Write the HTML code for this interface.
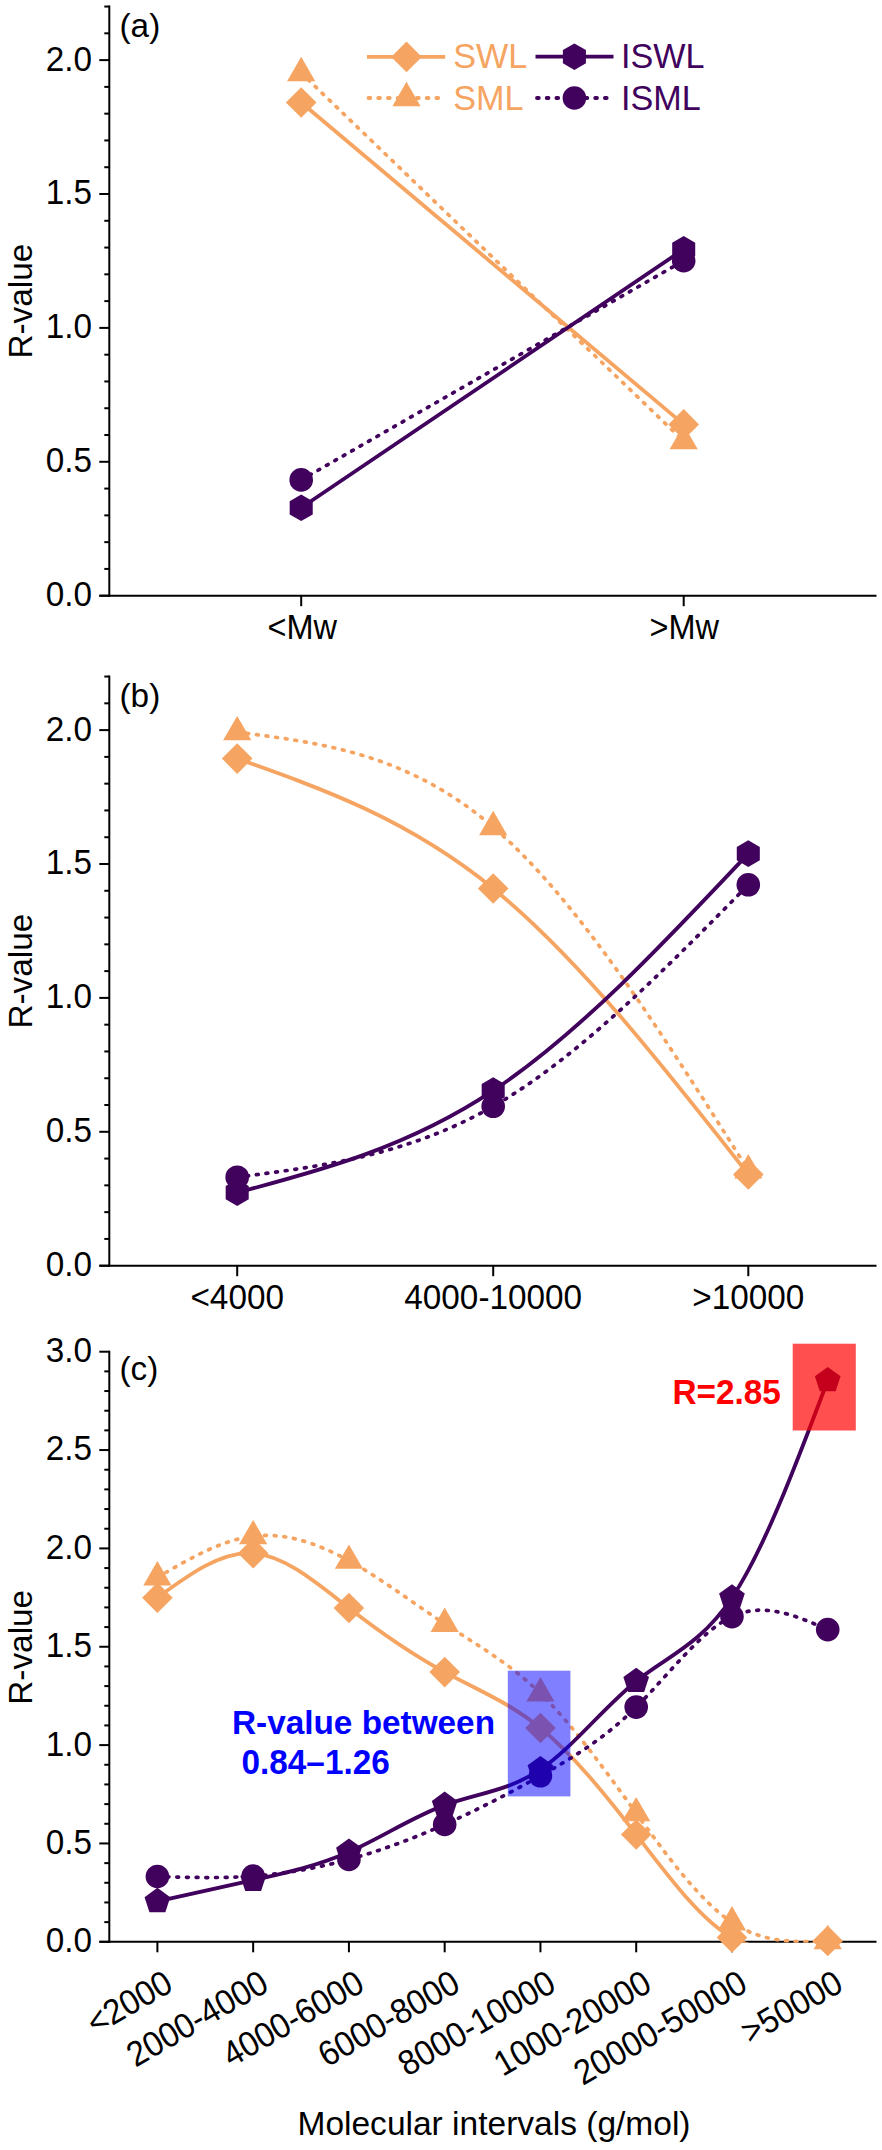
<!DOCTYPE html>
<html><head><meta charset="utf-8"><title>R-value chart</title>
<style>
html,body{margin:0;padding:0;background:#fff;}
body{width:882px;height:2150px;overflow:hidden;}
svg{display:block;}
text{font-family:"Liberation Sans",sans-serif;font-size:33.33px;fill:#000;}
.b{font-weight:bold;}
</style></head><body>
<svg width="882" height="2150" viewBox="0 0 882 2150">
<rect width="882" height="2150" fill="#fff"/>
<defs>
<clipPath id="ca"><rect x="109.3" y="0" width="780" height="595.7"/></clipPath>
<clipPath id="cb"><rect x="109.3" y="650" width="780" height="615.7"/></clipPath>
<clipPath id="cc"><rect x="109.3" y="1330" width="780" height="612.8"/></clipPath>
</defs>
<!-- panel a -->
<line x1="109.3" y1="5.54" x2="109.3" y2="596.70" stroke="#000" stroke-width="2"/>
<line x1="99.3" y1="595.70" x2="109.3" y2="595.70" stroke="#000" stroke-width="2"/>
<text transform="translate(92.00,606.10) scale(1.0,1.055)" text-anchor="end">0.0</text>
<line x1="104.3" y1="568.92" x2="109.3" y2="568.92" stroke="#000" stroke-width="2"/>
<line x1="104.3" y1="542.14" x2="109.3" y2="542.14" stroke="#000" stroke-width="2"/>
<line x1="104.3" y1="515.36" x2="109.3" y2="515.36" stroke="#000" stroke-width="2"/>
<line x1="104.3" y1="488.58" x2="109.3" y2="488.58" stroke="#000" stroke-width="2"/>
<line x1="99.3" y1="461.80" x2="109.3" y2="461.80" stroke="#000" stroke-width="2"/>
<text transform="translate(92.00,472.20) scale(1.0,1.055)" text-anchor="end">0.5</text>
<line x1="104.3" y1="435.02" x2="109.3" y2="435.02" stroke="#000" stroke-width="2"/>
<line x1="104.3" y1="408.24" x2="109.3" y2="408.24" stroke="#000" stroke-width="2"/>
<line x1="104.3" y1="381.46" x2="109.3" y2="381.46" stroke="#000" stroke-width="2"/>
<line x1="104.3" y1="354.68" x2="109.3" y2="354.68" stroke="#000" stroke-width="2"/>
<line x1="99.3" y1="327.90" x2="109.3" y2="327.90" stroke="#000" stroke-width="2"/>
<text transform="translate(92.00,338.30) scale(1.0,1.055)" text-anchor="end">1.0</text>
<line x1="104.3" y1="301.12" x2="109.3" y2="301.12" stroke="#000" stroke-width="2"/>
<line x1="104.3" y1="274.34" x2="109.3" y2="274.34" stroke="#000" stroke-width="2"/>
<line x1="104.3" y1="247.56" x2="109.3" y2="247.56" stroke="#000" stroke-width="2"/>
<line x1="104.3" y1="220.78" x2="109.3" y2="220.78" stroke="#000" stroke-width="2"/>
<line x1="99.3" y1="194.00" x2="109.3" y2="194.00" stroke="#000" stroke-width="2"/>
<text transform="translate(92.00,204.40) scale(1.0,1.055)" text-anchor="end">1.5</text>
<line x1="104.3" y1="167.22" x2="109.3" y2="167.22" stroke="#000" stroke-width="2"/>
<line x1="104.3" y1="140.44" x2="109.3" y2="140.44" stroke="#000" stroke-width="2"/>
<line x1="104.3" y1="113.66" x2="109.3" y2="113.66" stroke="#000" stroke-width="2"/>
<line x1="104.3" y1="86.88" x2="109.3" y2="86.88" stroke="#000" stroke-width="2"/>
<line x1="99.3" y1="60.10" x2="109.3" y2="60.10" stroke="#000" stroke-width="2"/>
<text transform="translate(92.00,70.50) scale(1.0,1.055)" text-anchor="end">2.0</text>
<line x1="104.3" y1="33.32" x2="109.3" y2="33.32" stroke="#000" stroke-width="2"/>
<line x1="104.3" y1="6.54" x2="109.3" y2="6.54" stroke="#000" stroke-width="2"/>
<line x1="99.3" y1="595.70" x2="876.5" y2="595.70" stroke="#000" stroke-width="2"/>
<line x1="301.20" y1="595.70" x2="301.20" y2="606.20" stroke="#000" stroke-width="2"/>
<line x1="683.70" y1="595.70" x2="683.70" y2="606.20" stroke="#000" stroke-width="2"/>
<path d="M301.20,102.50L683.70,424.40" fill="none" stroke="#F6A461" stroke-width="3.8"  clip-path="url(#ca)"/>
<polygon points="301.20,87.20 316.50,102.50 301.20,117.80 285.90,102.50" fill="#F6A461"/>
<polygon points="683.70,409.10 699.00,424.40 683.70,439.70 668.40,424.40" fill="#F6A461"/>
<path d="M301.20,73.00L683.70,441.20" fill="none" stroke="#F6A461" stroke-width="3.7" stroke-dasharray="1.8 7.9" stroke-linecap="round" clip-path="url(#ca)"/>
<polygon points="301.20,56.70 315.30,81.15 287.10,81.15" fill="#F6A461"/>
<polygon points="683.70,424.90 697.80,449.35 669.60,449.35" fill="#F6A461"/>
<path d="M301.20,507.80L683.70,249.30" fill="none" stroke="#40025C" stroke-width="3.8"  clip-path="url(#ca)"/>
<polygon points="301.20,494.50 312.72,501.15 312.72,514.45 301.20,521.10 289.68,514.45 289.68,501.15" fill="#40025C"/>
<polygon points="683.70,236.00 695.22,242.65 695.22,255.95 683.70,262.60 672.18,255.95 672.18,242.65" fill="#40025C"/>
<path d="M301.20,479.90L683.70,260.70" fill="none" stroke="#40025C" stroke-width="3.7" stroke-dasharray="1.8 7.9" stroke-linecap="round" clip-path="url(#ca)"/>
<circle cx="301.20" cy="479.90" r="11.8" fill="#40025C"/>
<circle cx="683.70" cy="260.70" r="11.8" fill="#40025C"/>
<text transform="translate(119.50,37.30) scale(1.0,1.0)">(a)</text>
<text transform="translate(302.20,639.30) scale(0.975,1.055)" text-anchor="middle">&lt;Mw</text>
<text transform="translate(684.30,639.30) scale(0.975,1.055)" text-anchor="middle">&gt;Mw</text>
<text transform="translate(32.40,301.20) rotate(-90) scale(1.0,1.0)" text-anchor="middle">R-value</text>
<line x1="367" y1="56.9" x2="445.2" y2="56.9" stroke="#F6A461" stroke-width="3.8"/>
<polygon points="406.50,41.60 421.80,56.90 406.50,72.20 391.20,56.90" fill="#F6A461"/>
<line x1="368.5" y1="98" x2="441" y2="98" stroke="#F6A461" stroke-width="3.8" stroke-dasharray="1.8 7.9" stroke-linecap="round"/>
<polygon points="406.50,81.70 420.60,106.15 392.40,106.15" fill="#F6A461"/>
<text transform="translate(453.2,67.7) scale(1.025,1.06)" style="fill:#F6A461">SWL</text>
<text transform="translate(453.2,109.6) scale(1.025,1.06)" style="fill:#F6A461">SML</text>
<line x1="535.5" y1="56.7" x2="613.5" y2="56.7" stroke="#40025C" stroke-width="3.8"/>
<polygon points="574.40,43.40 585.92,50.05 585.92,63.35 574.40,70.00 562.88,63.35 562.88,50.05" fill="#40025C"/>
<line x1="537" y1="98" x2="609" y2="98" stroke="#40025C" stroke-width="3.8" stroke-dasharray="1.8 7.9" stroke-linecap="round"/>
<circle cx="574.40" cy="98.00" r="11.8" fill="#40025C"/>
<text transform="translate(621,67.7) scale(1.025,1.06)" style="fill:#40025C">ISWL</text>
<text transform="translate(621,109.6) scale(1.025,1.06)" style="fill:#40025C">ISML</text>
<!-- panel b -->
<line x1="109.3" y1="675.54" x2="109.3" y2="1266.70" stroke="#000" stroke-width="2"/>
<line x1="99.3" y1="1265.70" x2="109.3" y2="1265.70" stroke="#000" stroke-width="2"/>
<text transform="translate(92.00,1276.10) scale(1.0,1.055)" text-anchor="end">0.0</text>
<line x1="104.3" y1="1238.92" x2="109.3" y2="1238.92" stroke="#000" stroke-width="2"/>
<line x1="104.3" y1="1212.14" x2="109.3" y2="1212.14" stroke="#000" stroke-width="2"/>
<line x1="104.3" y1="1185.36" x2="109.3" y2="1185.36" stroke="#000" stroke-width="2"/>
<line x1="104.3" y1="1158.58" x2="109.3" y2="1158.58" stroke="#000" stroke-width="2"/>
<line x1="99.3" y1="1131.80" x2="109.3" y2="1131.80" stroke="#000" stroke-width="2"/>
<text transform="translate(92.00,1142.20) scale(1.0,1.055)" text-anchor="end">0.5</text>
<line x1="104.3" y1="1105.02" x2="109.3" y2="1105.02" stroke="#000" stroke-width="2"/>
<line x1="104.3" y1="1078.24" x2="109.3" y2="1078.24" stroke="#000" stroke-width="2"/>
<line x1="104.3" y1="1051.46" x2="109.3" y2="1051.46" stroke="#000" stroke-width="2"/>
<line x1="104.3" y1="1024.68" x2="109.3" y2="1024.68" stroke="#000" stroke-width="2"/>
<line x1="99.3" y1="997.90" x2="109.3" y2="997.90" stroke="#000" stroke-width="2"/>
<text transform="translate(92.00,1008.30) scale(1.0,1.055)" text-anchor="end">1.0</text>
<line x1="104.3" y1="971.12" x2="109.3" y2="971.12" stroke="#000" stroke-width="2"/>
<line x1="104.3" y1="944.34" x2="109.3" y2="944.34" stroke="#000" stroke-width="2"/>
<line x1="104.3" y1="917.56" x2="109.3" y2="917.56" stroke="#000" stroke-width="2"/>
<line x1="104.3" y1="890.78" x2="109.3" y2="890.78" stroke="#000" stroke-width="2"/>
<line x1="99.3" y1="864.00" x2="109.3" y2="864.00" stroke="#000" stroke-width="2"/>
<text transform="translate(92.00,874.40) scale(1.0,1.055)" text-anchor="end">1.5</text>
<line x1="104.3" y1="837.22" x2="109.3" y2="837.22" stroke="#000" stroke-width="2"/>
<line x1="104.3" y1="810.44" x2="109.3" y2="810.44" stroke="#000" stroke-width="2"/>
<line x1="104.3" y1="783.66" x2="109.3" y2="783.66" stroke="#000" stroke-width="2"/>
<line x1="104.3" y1="756.88" x2="109.3" y2="756.88" stroke="#000" stroke-width="2"/>
<line x1="99.3" y1="730.10" x2="109.3" y2="730.10" stroke="#000" stroke-width="2"/>
<text transform="translate(92.00,740.50) scale(1.0,1.055)" text-anchor="end">2.0</text>
<line x1="104.3" y1="703.32" x2="109.3" y2="703.32" stroke="#000" stroke-width="2"/>
<line x1="104.3" y1="676.54" x2="109.3" y2="676.54" stroke="#000" stroke-width="2"/>
<line x1="99.3" y1="1265.70" x2="876.5" y2="1265.70" stroke="#000" stroke-width="2"/>
<line x1="237.20" y1="1265.70" x2="237.20" y2="1276.20" stroke="#000" stroke-width="2"/>
<line x1="493.20" y1="1265.70" x2="493.20" y2="1276.20" stroke="#000" stroke-width="2"/>
<line x1="748.30" y1="1265.70" x2="748.30" y2="1276.20" stroke="#000" stroke-width="2"/>
<path d="M237.20,758.60C322.53,788.79 407.87,818.99 493.20,888.50C578.23,957.77 663.27,1066.08 748.30,1174.40" fill="none" stroke="#F6A461" stroke-width="3.8"  clip-path="url(#cb)"/>
<polygon points="237.20,743.30 252.50,758.60 237.20,773.90 221.90,758.60" fill="#F6A461"/>
<polygon points="493.20,873.20 508.50,888.50 493.20,903.80 477.90,888.50" fill="#F6A461"/>
<polygon points="748.30,1159.10 763.60,1174.40 748.30,1189.70 733.00,1174.40" fill="#F6A461"/>
<path d="M237.20,732.20C322.53,743.00 407.87,753.81 493.20,827.10C578.23,900.13 663.27,1035.22 748.30,1170.30" fill="none" stroke="#F6A461" stroke-width="3.7" stroke-dasharray="1.8 7.9" stroke-linecap="round" clip-path="url(#cb)"/>
<polygon points="237.20,715.90 251.30,740.35 223.10,740.35" fill="#F6A461"/>
<polygon points="493.20,810.80 507.30,835.25 479.10,835.25" fill="#F6A461"/>
<polygon points="748.30,1154.00 762.40,1178.45 734.20,1178.45" fill="#F6A461"/>
<path d="M237.20,1192.60C322.53,1169.94 407.87,1147.28 493.20,1090.60C578.23,1034.12 663.27,943.86 748.30,853.60" fill="none" stroke="#40025C" stroke-width="3.8"  clip-path="url(#cb)"/>
<polygon points="237.20,1179.30 248.72,1185.95 248.72,1199.25 237.20,1205.90 225.68,1199.25 225.68,1185.95" fill="#40025C"/>
<polygon points="493.20,1077.30 504.72,1083.95 504.72,1097.25 493.20,1103.90 481.68,1097.25 481.68,1083.95" fill="#40025C"/>
<polygon points="748.30,840.30 759.82,846.95 759.82,860.25 748.30,866.90 736.78,860.25 736.78,846.95" fill="#40025C"/>
<path d="M237.20,1177.20C322.53,1166.20 407.87,1155.21 493.20,1106.30C578.23,1057.56 663.27,971.18 748.30,884.80" fill="none" stroke="#40025C" stroke-width="3.7" stroke-dasharray="1.8 7.9" stroke-linecap="round" clip-path="url(#cb)"/>
<circle cx="237.20" cy="1177.20" r="11.8" fill="#40025C"/>
<circle cx="493.20" cy="1106.30" r="11.8" fill="#40025C"/>
<circle cx="748.30" cy="884.80" r="11.8" fill="#40025C"/>
<text transform="translate(119.50,707.00) scale(1.0,1.0)">(b)</text>
<text transform="translate(237.20,1309.30) scale(1.0,1.055)" text-anchor="middle">&lt;4000</text>
<text transform="translate(493.20,1309.30) scale(1.0,1.055)" text-anchor="middle">4000-10000</text>
<text transform="translate(748.30,1309.30) scale(1.0,1.055)" text-anchor="middle">&gt;10000</text>
<text transform="translate(32.40,971.20) rotate(-90) scale(1.0,1.0)" text-anchor="middle">R-value</text>
<!-- panel c -->
<line x1="109.3" y1="1350.70" x2="109.3" y2="1942.80" stroke="#000" stroke-width="2"/>
<line x1="99.3" y1="1941.80" x2="109.3" y2="1941.80" stroke="#000" stroke-width="2"/>
<text transform="translate(92.00,1952.20) scale(1.0,1.055)" text-anchor="end">0.0</text>
<line x1="104.3" y1="1922.13" x2="109.3" y2="1922.13" stroke="#000" stroke-width="2"/>
<line x1="104.3" y1="1902.46" x2="109.3" y2="1902.46" stroke="#000" stroke-width="2"/>
<line x1="104.3" y1="1882.79" x2="109.3" y2="1882.79" stroke="#000" stroke-width="2"/>
<line x1="104.3" y1="1863.12" x2="109.3" y2="1863.12" stroke="#000" stroke-width="2"/>
<line x1="99.3" y1="1843.45" x2="109.3" y2="1843.45" stroke="#000" stroke-width="2"/>
<text transform="translate(92.00,1853.85) scale(1.0,1.055)" text-anchor="end">0.5</text>
<line x1="104.3" y1="1823.78" x2="109.3" y2="1823.78" stroke="#000" stroke-width="2"/>
<line x1="104.3" y1="1804.11" x2="109.3" y2="1804.11" stroke="#000" stroke-width="2"/>
<line x1="104.3" y1="1784.44" x2="109.3" y2="1784.44" stroke="#000" stroke-width="2"/>
<line x1="104.3" y1="1764.77" x2="109.3" y2="1764.77" stroke="#000" stroke-width="2"/>
<line x1="99.3" y1="1745.10" x2="109.3" y2="1745.10" stroke="#000" stroke-width="2"/>
<text transform="translate(92.00,1755.50) scale(1.0,1.055)" text-anchor="end">1.0</text>
<line x1="104.3" y1="1725.43" x2="109.3" y2="1725.43" stroke="#000" stroke-width="2"/>
<line x1="104.3" y1="1705.76" x2="109.3" y2="1705.76" stroke="#000" stroke-width="2"/>
<line x1="104.3" y1="1686.09" x2="109.3" y2="1686.09" stroke="#000" stroke-width="2"/>
<line x1="104.3" y1="1666.42" x2="109.3" y2="1666.42" stroke="#000" stroke-width="2"/>
<line x1="99.3" y1="1646.75" x2="109.3" y2="1646.75" stroke="#000" stroke-width="2"/>
<text transform="translate(92.00,1657.15) scale(1.0,1.055)" text-anchor="end">1.5</text>
<line x1="104.3" y1="1627.08" x2="109.3" y2="1627.08" stroke="#000" stroke-width="2"/>
<line x1="104.3" y1="1607.41" x2="109.3" y2="1607.41" stroke="#000" stroke-width="2"/>
<line x1="104.3" y1="1587.74" x2="109.3" y2="1587.74" stroke="#000" stroke-width="2"/>
<line x1="104.3" y1="1568.07" x2="109.3" y2="1568.07" stroke="#000" stroke-width="2"/>
<line x1="99.3" y1="1548.40" x2="109.3" y2="1548.40" stroke="#000" stroke-width="2"/>
<text transform="translate(92.00,1558.80) scale(1.0,1.055)" text-anchor="end">2.0</text>
<line x1="104.3" y1="1528.73" x2="109.3" y2="1528.73" stroke="#000" stroke-width="2"/>
<line x1="104.3" y1="1509.06" x2="109.3" y2="1509.06" stroke="#000" stroke-width="2"/>
<line x1="104.3" y1="1489.39" x2="109.3" y2="1489.39" stroke="#000" stroke-width="2"/>
<line x1="104.3" y1="1469.72" x2="109.3" y2="1469.72" stroke="#000" stroke-width="2"/>
<line x1="99.3" y1="1450.05" x2="109.3" y2="1450.05" stroke="#000" stroke-width="2"/>
<text transform="translate(92.00,1460.45) scale(1.0,1.055)" text-anchor="end">2.5</text>
<line x1="104.3" y1="1430.38" x2="109.3" y2="1430.38" stroke="#000" stroke-width="2"/>
<line x1="104.3" y1="1410.71" x2="109.3" y2="1410.71" stroke="#000" stroke-width="2"/>
<line x1="104.3" y1="1391.04" x2="109.3" y2="1391.04" stroke="#000" stroke-width="2"/>
<line x1="104.3" y1="1371.37" x2="109.3" y2="1371.37" stroke="#000" stroke-width="2"/>
<line x1="99.3" y1="1351.70" x2="109.3" y2="1351.70" stroke="#000" stroke-width="2"/>
<text transform="translate(92.00,1362.10) scale(1.0,1.055)" text-anchor="end">3.0</text>
<line x1="99.3" y1="1941.80" x2="876.5" y2="1941.80" stroke="#000" stroke-width="2"/>
<line x1="157.40" y1="1941.80" x2="157.40" y2="1952.30" stroke="#000" stroke-width="2"/>
<line x1="253.16" y1="1941.80" x2="253.16" y2="1952.30" stroke="#000" stroke-width="2"/>
<line x1="348.92" y1="1941.80" x2="348.92" y2="1952.30" stroke="#000" stroke-width="2"/>
<line x1="444.68" y1="1941.80" x2="444.68" y2="1952.30" stroke="#000" stroke-width="2"/>
<line x1="540.44" y1="1941.80" x2="540.44" y2="1952.30" stroke="#000" stroke-width="2"/>
<line x1="636.20" y1="1941.80" x2="636.20" y2="1952.30" stroke="#000" stroke-width="2"/>
<line x1="731.96" y1="1941.80" x2="731.96" y2="1952.30" stroke="#000" stroke-width="2"/>
<line x1="827.72" y1="1941.80" x2="827.72" y2="1952.30" stroke="#000" stroke-width="2"/>
<path d="M157.40,1597.70C189.32,1574.40 221.24,1551.11 253.16,1553.30C285.08,1555.49 317.00,1583.18 348.92,1608.00C380.84,1632.82 412.76,1654.79 444.68,1672.10C476.60,1689.41 508.52,1702.07 540.44,1728.00C572.36,1753.93 604.28,1793.14 636.20,1834.50C668.12,1875.86 700.04,1919.39 731.96,1937.50C763.88,1955.61 795.80,1948.31 827.72,1941.00" fill="none" stroke="#F6A461" stroke-width="3.8"  clip-path="url(#cc)"/>
<polygon points="157.40,1582.40 172.70,1597.70 157.40,1613.00 142.10,1597.70" fill="#F6A461"/>
<polygon points="253.16,1538.00 268.46,1553.30 253.16,1568.60 237.86,1553.30" fill="#F6A461"/>
<polygon points="348.92,1592.70 364.22,1608.00 348.92,1623.30 333.62,1608.00" fill="#F6A461"/>
<polygon points="444.68,1656.80 459.98,1672.10 444.68,1687.40 429.38,1672.10" fill="#F6A461"/>
<polygon points="540.44,1712.70 555.74,1728.00 540.44,1743.30 525.14,1728.00" fill="#F6A461"/>
<polygon points="636.20,1819.20 651.50,1834.50 636.20,1849.80 620.90,1834.50" fill="#F6A461"/>
<polygon points="731.96,1922.20 747.26,1937.50 731.96,1952.80 716.66,1937.50" fill="#F6A461"/>
<polygon points="827.72,1925.70 843.02,1941.00 827.72,1956.30 812.42,1941.00" fill="#F6A461"/>
<path d="M157.40,1577.40C189.32,1558.76 221.24,1540.12 253.16,1536.20C285.08,1532.28 317.00,1543.07 348.92,1560.70C380.84,1578.33 412.76,1602.80 444.68,1623.80C476.60,1644.80 508.52,1662.34 540.44,1693.40C572.36,1724.46 604.28,1769.05 636.20,1813.20C668.12,1857.35 700.04,1901.07 731.96,1922.30C763.88,1943.53 795.80,1942.26 827.72,1941.00" fill="none" stroke="#F6A461" stroke-width="3.7" stroke-dasharray="1.8 7.9" stroke-linecap="round" clip-path="url(#cc)"/>
<polygon points="157.40,1561.10 171.50,1585.55 143.30,1585.55" fill="#F6A461"/>
<polygon points="253.16,1519.90 267.26,1544.35 239.06,1544.35" fill="#F6A461"/>
<polygon points="348.92,1544.40 363.02,1568.85 334.82,1568.85" fill="#F6A461"/>
<polygon points="444.68,1607.50 458.78,1631.95 430.58,1631.95" fill="#F6A461"/>
<polygon points="540.44,1677.10 554.54,1701.55 526.34,1701.55" fill="#F6A461"/>
<polygon points="636.20,1796.90 650.30,1821.35 622.10,1821.35" fill="#F6A461"/>
<polygon points="731.96,1906.00 746.06,1930.45 717.86,1930.45" fill="#F6A461"/>
<polygon points="827.72,1924.70 841.82,1949.15 813.62,1949.15" fill="#F6A461"/>
<path d="M157.40,1901.30C189.32,1894.22 221.24,1887.14 253.16,1880.10C285.08,1873.06 317.00,1866.07 348.92,1852.00C380.84,1837.93 412.76,1816.80 444.68,1805.10C476.60,1793.40 508.52,1791.14 540.44,1769.50C572.36,1747.86 604.28,1706.85 636.20,1681.20C668.12,1655.55 700.04,1645.27 731.96,1597.70C763.88,1550.13 795.80,1465.26 827.72,1380.40" fill="none" stroke="#40025C" stroke-width="3.8"  clip-path="url(#cc)"/>
<polygon points="157.40,1887.80 170.24,1897.13 165.34,1912.22 149.46,1912.22 144.56,1897.13" fill="#40025C"/>
<polygon points="253.16,1866.60 266.00,1875.93 261.10,1891.02 245.22,1891.02 240.32,1875.93" fill="#40025C"/>
<polygon points="348.92,1838.50 361.76,1847.83 356.86,1862.92 340.98,1862.92 336.08,1847.83" fill="#40025C"/>
<polygon points="444.68,1791.60 457.52,1800.93 452.62,1816.02 436.74,1816.02 431.84,1800.93" fill="#40025C"/>
<polygon points="540.44,1756.00 553.28,1765.33 548.38,1780.42 532.50,1780.42 527.60,1765.33" fill="#40025C"/>
<polygon points="636.20,1667.70 649.04,1677.03 644.14,1692.12 628.26,1692.12 623.36,1677.03" fill="#40025C"/>
<polygon points="731.96,1584.20 744.80,1593.53 739.90,1608.62 724.02,1608.62 719.12,1593.53" fill="#40025C"/>
<polygon points="827.72,1366.90 840.56,1376.23 835.66,1391.32 819.78,1391.32 814.88,1376.23" fill="#40025C"/>
<path d="M157.40,1876.50C189.32,1877.46 221.24,1878.43 253.16,1876.10C285.08,1873.77 317.00,1868.16 348.92,1859.40C380.84,1850.64 412.76,1838.74 444.68,1824.50C476.60,1810.26 508.52,1793.70 540.44,1775.80C572.36,1757.90 604.28,1738.68 636.20,1707.10C668.12,1675.52 700.04,1631.58 731.96,1616.60C763.88,1601.62 795.80,1615.61 827.72,1629.60" fill="none" stroke="#40025C" stroke-width="3.7" stroke-dasharray="1.8 7.9" stroke-linecap="round" clip-path="url(#cc)"/>
<circle cx="157.40" cy="1876.50" r="11.8" fill="#40025C"/>
<circle cx="253.16" cy="1876.10" r="11.8" fill="#40025C"/>
<circle cx="348.92" cy="1859.40" r="11.8" fill="#40025C"/>
<circle cx="444.68" cy="1824.50" r="11.8" fill="#40025C"/>
<circle cx="540.44" cy="1775.80" r="11.8" fill="#40025C"/>
<circle cx="636.20" cy="1707.10" r="11.8" fill="#40025C"/>
<circle cx="731.96" cy="1616.60" r="11.8" fill="#40025C"/>
<circle cx="827.72" cy="1629.60" r="11.8" fill="#40025C"/>
<rect x="507.8" y="1670.7" width="62.6" height="125.7" fill="#0000ff" fill-opacity="0.5"/>
<rect x="792.7" y="1343.7" width="63.1" height="86.8" fill="#ff0000" fill-opacity="0.69"/>
<text transform="translate(119.50,1379.50) scale(1.0,1.0)">(c)</text>
<text transform="translate(672.50,1403.60) scale(1.0,1.04)" class="b" style="fill:#ff0000">R=2.85</text>
<text transform="translate(232.00,1733.50) scale(1.0,1.0)" class="b" style="fill:#0000ff">R-value between</text>
<text transform="translate(241.50,1774.00) scale(1.0,1.04)" class="b" style="fill:#0000ff">0.84–1.26</text>
<text transform="translate(174.90,1989.80) rotate(-30) scale(0.98,1.055)" text-anchor="end">&lt;2000</text>
<text transform="translate(270.66,1989.80) rotate(-30) scale(0.98,1.055)" text-anchor="end">2000-4000</text>
<text transform="translate(366.42,1989.80) rotate(-30) scale(0.98,1.055)" text-anchor="end">4000-6000</text>
<text transform="translate(462.18,1989.80) rotate(-30) scale(0.98,1.055)" text-anchor="end">6000-8000</text>
<text transform="translate(557.94,1989.80) rotate(-30) scale(0.98,1.055)" text-anchor="end">8000-10000</text>
<text transform="translate(653.70,1989.80) rotate(-30) scale(0.98,1.055)" text-anchor="end">1000-20000</text>
<text transform="translate(749.46,1989.80) rotate(-30) scale(0.98,1.055)" text-anchor="end">20000-50000</text>
<text transform="translate(845.22,1989.80) rotate(-30) scale(0.98,1.055)" text-anchor="end">&gt;50000</text>
<text transform="translate(32.40,1647.30) rotate(-90) scale(1.0,1.0)" text-anchor="middle">R-value</text>
<text transform="translate(494.00,2134.90) scale(1.006,1.0)" text-anchor="middle">Molecular intervals (g/mol)</text>
</svg></body></html>
